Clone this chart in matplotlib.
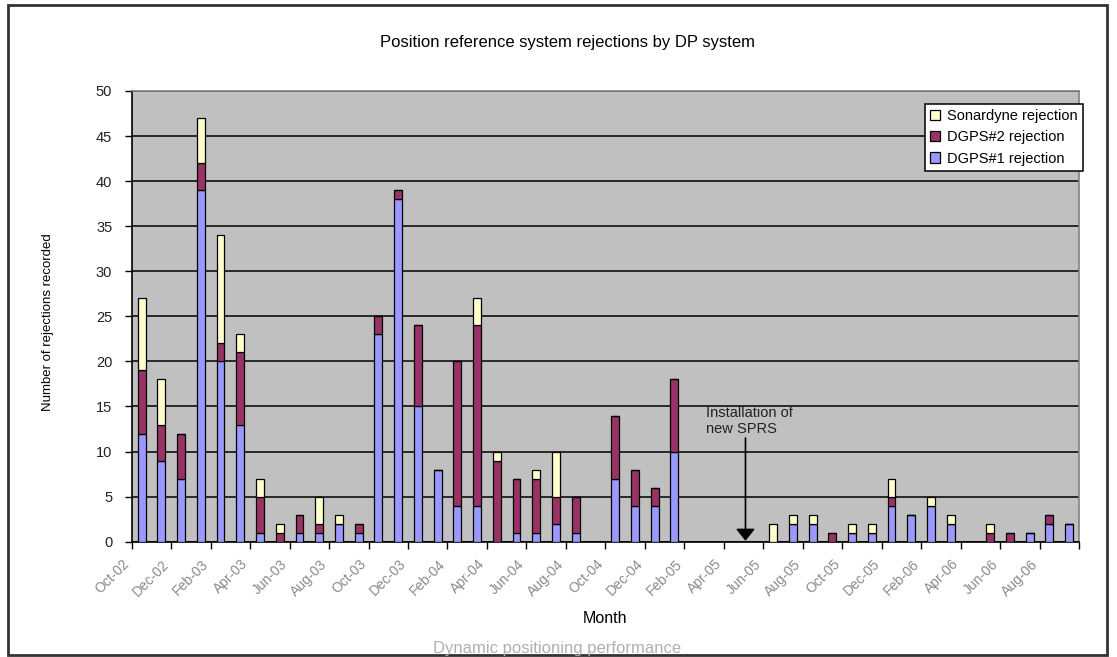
"""Monthly position reference rejections, stacked by reference system."""

import matplotlib

matplotlib.use("Agg")
import matplotlib.pyplot as plt
from matplotlib.patches import Rectangle
from matplotlib.transforms import ScaledTranslation

plt.rcParams["font.family"] = ["Liberation Sans", "DejaVu Sans"]

months = [
    "Oct-02", "Nov-02", "Dec-02", "Jan-03", "Feb-03", "Mar-03", "Apr-03", "May-03",
    "Jun-03", "Jul-03", "Aug-03", "Sep-03", "Oct-03", "Nov-03", "Dec-03", "Jan-04",
    "Feb-04", "Mar-04", "Apr-04", "May-04", "Jun-04", "Jul-04", "Aug-04", "Sep-04",
    "Oct-04", "Nov-04", "Dec-04", "Jan-05", "Feb-05", "Mar-05", "Apr-05", "May-05",
    "Jun-05", "Jul-05", "Aug-05", "Sep-05", "Oct-05", "Nov-05", "Dec-05", "Jan-06",
    "Feb-06", "Mar-06", "Apr-06", "May-06", "Jun-06", "Jul-06", "Aug-06", "Sep-06",
]
dgps1 = [12, 9, 7, 39, 20, 13, 1, 0, 1, 1, 2, 1, 23, 38, 15, 8,
         4, 4, 0, 1, 1, 2, 1, 0, 7, 4, 4, 10, 0, 0, 0, 0,
         0, 2, 2, 0, 1, 1, 4, 3, 4, 2, 0, 0, 0, 1, 2, 2]
dgps2 = [7, 4, 5, 3, 2, 8, 4, 1, 2, 1, 0, 1, 2, 1, 9, 0,
         16, 20, 9, 6, 6, 3, 4, 0, 7, 4, 2, 8, 0, 0, 0, 0,
         0, 0, 0, 1, 0, 0, 1, 0, 0, 0, 0, 1, 1, 0, 1, 0]
sonardyne = [8, 5, 0, 5, 12, 2, 2, 1, 0, 3, 1, 0, 0, 0, 0, 0,
             0, 3, 1, 0, 1, 5, 0, 0, 0, 0, 0, 0, 0, 0, 0, 0,
             2, 1, 1, 0, 1, 1, 2, 0, 1, 1, 0, 1, 0, 0, 0, 0]

# shown every second month, as in the source workbook
tick_labels = months[::2]

sprs_month = "May-05"
sprs_note = "Installation of\nnew SPRS"

BLUE = "#9999FF"
PLUM = "#993366"
CREAM = "#FFFFCC"

# page size and plot-area edges, in pixels from the top-left corner
W, H = 1117, 657
L, R, T, B = 131.7, 1079, 91, 541.7

fig = plt.figure(figsize=(W / 100, H / 100), dpi=100)
ax = fig.add_axes([L / W, 1 - B / H, (R - L) / W, (B - T) / H])
ax.set_facecolor("#C0C0C0")

x = list(range(len(months)))
width = 0.4
edge = dict(edgecolor="black", linewidth=0.9, width=width, zorder=3)
b1 = ax.bar(x, dgps1, color=BLUE, label="DGPS#1 rejection", **edge)
b2 = ax.bar(x, dgps2, bottom=dgps1, color=PLUM, label="DGPS#2 rejection", **edge)
base = [a + b for a, b in zip(dgps1, dgps2)]
b3 = ax.bar(x, sonardyne, bottom=base, color=CREAM, label="Sonardyne rejection", **edge)

ax.set_xlim(-0.5, len(months) - 0.5)
ax.set_ylim(0, 50)
ax.set_yticks(range(0, 51, 5))
ax.yaxis.grid(True, color="black", linewidth=1.1, zorder=1)
ax.set_axisbelow(True)
ax.tick_params(axis="y", labelsize=10.5, length=5, width=1, pad=9, colors="black")
for lbl in ax.get_yticklabels():
    lbl.set_color("#222222")

# tick marks between every second month, labels on the month itself
ax.set_xticks([i - 0.5 for i in range(0, len(months) + 1, 2)])
ax.set_xticklabels([])
ax.tick_params(axis="x", which="major", length=5, width=1, direction="out")
ax.set_xticks(x[::2], minor=True)
ax.set_xticklabels(tick_labels, minor=True, rotation=45, ha="right", va="top",
                   rotation_mode="anchor", fontsize=10, color="#8a8a8a")
ax.tick_params(axis="x", which="minor", length=0, pad=11)
shift = ScaledTranslation(-19 / 100, 0, fig.dpi_scale_trans)
for lbl in ax.get_xticklabels(minor=True):
    lbl.set_transform(lbl.get_transform() + shift)

ax.spines["left"].set_color("black")
ax.spines["bottom"].set_color("black")
ax.spines["top"].set_color("#808080")
ax.spines["right"].set_color("#808080")
for s in ax.spines.values():
    s.set_linewidth(1.2)

ax.set_xlabel("Month", fontsize=11.5)
ax.xaxis.set_label_coords((605 - L) / (R - L), -(611 - B) / (B - T))
ax.set_ylabel("Number of rejections recorded", fontsize=9.5)
ax.yaxis.set_label_coords(-(L - 54) / (R - L), 1 - (322 - T) / (B - T))

fig.text(568 / W, 1 - 43 / H, "Position reference system rejections by DP system",
         ha="center", va="center", fontsize=12)

# arrow marking the new SPRS installation
xa = months.index(sprs_month) - 0.4
ax.annotate("", xy=(xa, 0.1), xytext=(xa, 11.5),
            arrowprops=dict(arrowstyle="-|>,head_length=0.36,head_width=0.29",
                            color="black", lw=1.2, mutation_scale=20,
                            shrinkA=0, shrinkB=0), zorder=5)
ax.text(xa - 2.0, 15.1, sprs_note, fontsize=10.5, va="top", ha="left",
        linespacing=1.25, color="#222222", zorder=5)

leg = ax.legend(handles=[b3, b2, b1], loc="upper right",
                bbox_to_anchor=(1083 / W, 1 - 104 / H), bbox_transform=fig.transFigure,
                borderaxespad=0, fancybox=False, framealpha=1, edgecolor="black",
                fontsize=10.5, handlelength=0.7, handleheight=0.7, handletextpad=0.5,
                labelspacing=0.5, borderpad=0.35)
leg.get_frame().set_linewidth(1.1)
leg.set_zorder(6)

# caption running below the chart, then the page frame over it
fig.text(557 / W, 1.5 / H, "Dynamic positioning performance",
         ha="center", va="bottom", fontsize=12, color="#b0b0b0")
fig.patches.append(Rectangle((8 / W, 1 - 655 / H), (1107 - 8) / W, (655 - 5) / H,
                             transform=fig.transFigure, fill=False,
                             edgecolor="#333333", linewidth=2))

fig.savefig("out.png", dpi=100)
